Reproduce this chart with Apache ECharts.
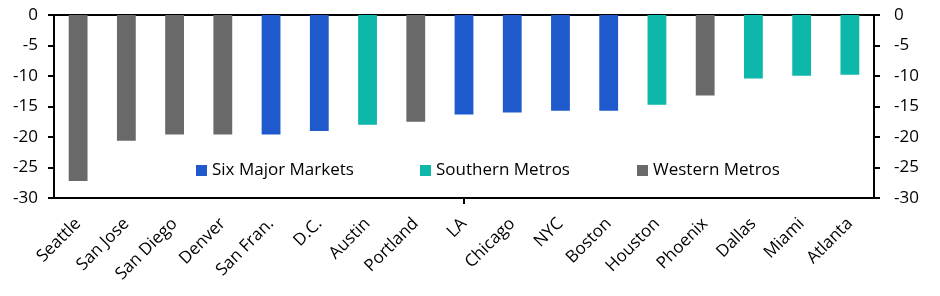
<!DOCTYPE html>
<html><head><meta charset="utf-8">
<script src="https://cdn.jsdelivr.net/npm/echarts@6/dist/echarts.min.js"></script>
<style>html,body{margin:0;padding:0;background:#fff}#c{width:940px;height:296px}</style>
</head><body><div id="c"></div>
<script>
const categories = ['Seattle','San Jose','San Diego','Denver','San Fran.','D.C.','Austin','Portland','LA','Chicago','NYC','Boston','Houston','Phoenix','Dallas','Miami','Atlanta'];
const groups = ['W','W','W','W','S6','S6','SO','W','S6','S6','S6','S6','SO','W','SO','SO','SO'];
const values = [-27.2,-20.6,-19.6,-19.6,-19.6,-19.0,-18.0,-17.5,-16.3,-16.0,-15.7,-15.7,-14.7,-13.2,-10.4,-9.95,-9.8];
const seriesNames = ['Six Major Markets','Southern Metros','Western Metros'];
const seriesKeys = ['S6','SO','W'];
const colors = ['#1f5acd','#0db8aa','#696969'];
const yTicks = [-30,-25,-20,-15,-10,-5,0];

const FONT = 'Open Sans';
const series = seriesKeys.map((k,i)=>({
  name: seriesNames[i], type:'bar', stack:'all', barWidth:'39%',
  itemStyle:{color:colors[i]},
  data: values.map((v,j)=> groups[j]===k ? v : '-')
}));

const yAxisBase = {
  type:'value', min:yTicks[0], max:yTicks[yTicks.length-1], interval:5,
  axisLine:{show:true,lineStyle:{color:'#000',width:2}},
  axisTick:{show:true,length:6,lineStyle:{color:'#000',width:2}},
  splitLine:{show:false}
};
const legendBase = {top:157, itemWidth:11, itemHeight:11, icon:'rect',
  textStyle:{fontSize:17,fontFamily:FONT,color:'#000'}, itemGap:6, selectedMode:false};
const option = {
  animation:false,
  grid:{left:54,right:66,top:15,bottom:98},
  legend:[
    Object.assign({left:191,data:[seriesNames[0]]},legendBase),
    Object.assign({left:415,data:[seriesNames[1]]},legendBase),
    Object.assign({left:632,data:[seriesNames[2]]},legendBase)
  ],
  xAxis:[
    {type:'category',data:categories,position:'bottom',
     axisLine:{show:true,onZero:false,lineStyle:{color:'#000',width:2}},
     axisTick:{show:true,alignWithLabel:true,length:6,interval:(idx)=>idx===8,lineStyle:{color:'#000',width:2}},
     axisLabel:{rotate:45,color:'#000',fontSize:17,fontFamily:FONT,margin:23,interval:0}},
    {type:'category',data:categories,position:'top',
     axisLine:{show:true,onZero:false,lineStyle:{color:'#000',width:2}},
     axisTick:{show:false},axisLabel:{show:false}}
  ],
  yAxis:[
    Object.assign({position:'left',axisLabel:{color:'#000',fontSize:17,fontFamily:FONT,margin:16}},yAxisBase),
    Object.assign({position:'right',axisLabel:{color:'#000',fontSize:17,fontFamily:FONT,margin:20}},yAxisBase)
  ],
  series: series
};
echarts.init(document.getElementById('c')).setOption(option);
</script></body></html>
